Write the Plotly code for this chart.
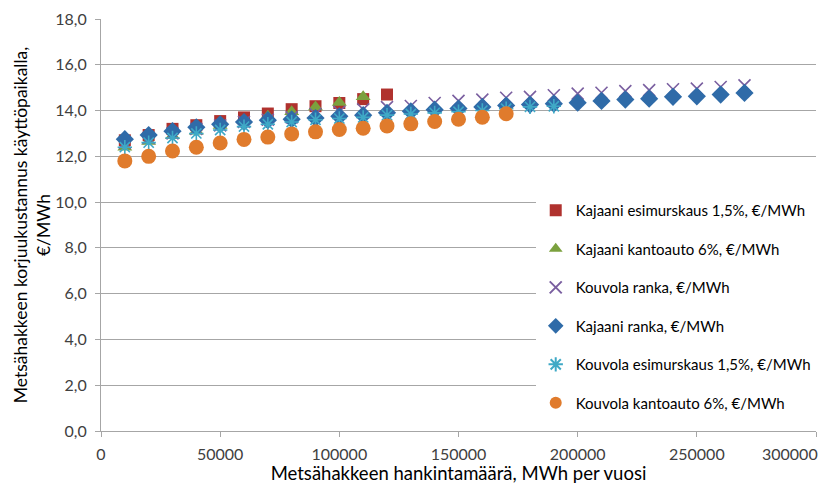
import plotly.graph_objects as go

x_vals = [10000 * i for i in range(1, 28)]

kajaani_esimurskaus = [12.7, 12.93, 13.2, 13.36, 13.54, 13.7, 13.87, 14.06, 14.19, 14.33, 14.5, 14.7]
kajaani_kantoauto = [12.4, 12.65, 12.9, 13.1, 13.35, 13.55, 13.75, 13.95, 14.15, 14.35, 14.6]
kouvola_ranka = [12.6, 12.8, 13.0, 13.2, 13.35, 13.5, 13.6, 13.7, 13.85, 13.95, 14.05, 14.15,
                 14.2, 14.33, 14.42, 14.48, 14.56, 14.6, 14.67, 14.74, 14.78, 14.85, 14.89,
                 14.93, 14.96, 15.03, 15.1]
kajaani_ranka = [12.75, 12.93, 13.1, 13.27, 13.4, 13.5, 13.58, 13.62, 13.67, 13.75, 13.8, 13.9,
                 13.97, 14.04, 14.09, 14.16, 14.22, 14.26, 14.3, 14.34, 14.42, 14.48, 14.52,
                 14.6, 14.62, 14.7, 14.77]
kouvola_esimurskaus = [12.4, 12.6, 12.8, 13.0, 13.15, 13.3, 13.4, 13.5, 13.6, 13.65, 13.7, 13.8,
                       13.85, 13.9, 13.95, 14.0, 14.08, 14.16, 14.19]
kouvola_kantoauto = [11.8, 12.0, 12.23, 12.4, 12.58, 12.74, 12.84, 12.98, 13.07, 13.17, 13.23,
                     13.33, 13.42, 13.52, 13.62, 13.71, 13.86]

names = [
    "Kajaani esimurskaus 1,5%, €/MWh",
    "Kajaani kantoauto 6%, €/MWh",
    "Kouvola ranka, €/MWh",
    "Kajaani ranka, €/MWh",
    "Kouvola esimurskaus 1,5%, €/MWh",
    "Kouvola kantoauto 6%, €/MWh",
]
y_ticks = [0, 2, 4, 6, 8, 10, 12, 14, 16, 18]
x_ticks = [0, 50000, 100000, 150000, 200000, 250000, 300000]
x_ticktext = ["0", "50000", "100000", "150000", "200000", "250000", ""]
x_last_label = "300000"

series = [kajaani_esimurskaus, kajaani_kantoauto, kouvola_ranka,
          kajaani_ranka, kouvola_esimurskaus, kouvola_kantoauto]
styles = [
    dict(symbol="square", size=12, color="#B0322E"),
    dict(symbol="triangle-up", size=13, color="#7BA13E"),
    dict(symbol="x-thin-open", size=12, color="#7A5FA0", line=dict(color="#7A5FA0", width=1.6)),
    dict(symbol="diamond", size=14, color="#2F6BA8"),
    dict(symbol="asterisk-open", size=12, color="#3FA9C6", line=dict(color="#3FA9C6", width=1.6)),
    dict(symbol="circle", size=15, color="#E07B2C"),
]

fig = go.Figure()
for i, (nm, ys, st) in enumerate(zip(names, series, styles)):
    fig.add_trace(go.Scatter(
        x=x_vals[:len(ys)], y=ys, mode="markers", name=nm,
        legendgroup=str(i), marker=st,
    ))

font_family = "Lato, 'Open Sans', sans-serif"
tick_font = dict(size=16, color="#404040", family=font_family)
fig.update_layout(
    width=825, height=484,
    margin=dict(l=101, r=9, t=19, b=53),
    paper_bgcolor="white", plot_bgcolor="white",
    separators=", ",
    font=dict(family=font_family, color="#000000", size=14),
    showlegend=True,
    legend=dict(
        x=0.608, y=0.575, xanchor="left", yanchor="top",
        bgcolor="white", font=dict(size=15, family=font_family),
        tracegroupgap=16, itemwidth=30, itemsizing="constant",
    ),
    xaxis=dict(
        range=[0, 300000], tickvals=x_ticks, ticktext=x_ticktext,
        showgrid=False, showline=True, linecolor="#A6A6A6", linewidth=1,
        ticks="outside", tickcolor="#A6A6A6", ticklen=5, ticklabelstandoff=4,
        tickfont=tick_font, automargin=False,
        title=dict(text="Metsähakkeen hankintamäärä, MWh per vuosi", font=dict(size=18.5), standoff=4),
        zeroline=False,
    ),
    yaxis=dict(
        range=[0, 18], tickvals=y_ticks, tickformat=".1f",
        showgrid=True, gridcolor="#A6A6A6", gridwidth=1,
        showline=True, linecolor="#A6A6A6", linewidth=1,
        ticks="outside", tickcolor="#A6A6A6", ticklen=5, ticklabelstandoff=5,
        tickfont=tick_font, automargin=False,
        title=dict(text="Metsähakkeen korjuukustannus käyttöpaikalla,<br>€/MWh",
                   font=dict(size=17.5), standoff=0),
        zeroline=False,
    ),
)
fig.add_annotation(
    x=300000, y=0, xref="x", yref="y", text=x_last_label, showarrow=False,
    xanchor="right", yanchor="top", xshift=4, yshift=-11, font=tick_font,
)

fig.write_html("out.html", config={"displayModeBar": False},
               post_script="document.body.style.margin='0';")
